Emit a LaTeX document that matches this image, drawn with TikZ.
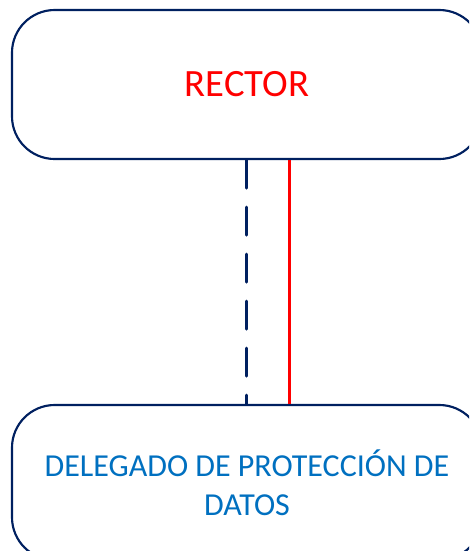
\documentclass[tikz,border=0pt]{standalone}
\usepackage{fontspec}
\setmainfont{Carlito}
\usetikzlibrary{positioning}

\definecolor{navyline}{RGB}{0,32,96}
\definecolor{textblue}{RGB}{0,112,192}

\tikzset{
	orgbox/.style={draw=navyline, line width=1.6pt, rounded corners=32pt,
		fill=white, align=center, inner sep=0pt},
	link/.style={line width=2.25pt, line cap=round}
}

\begin{document}
\begin{tikzpicture}[x=0.75pt,y=-0.75pt]
		\useasboundingbox (0,0) rectangle (469,551);
		\clip (0,0) rectangle (469,551);
		\node[orgbox, minimum width=352.5pt, minimum height=111.75pt,
			font=\fontsize{29}{35}\selectfont, text=red] (rector) at (247,84.5) {RECTOR};
		\node[orgbox, minimum width=352.5pt, minimum height=116.25pt,
			font=\fontsize{24}{29.5}\selectfont, text=textblue] (delegado) at (247,482.5)
			{DELEGADO DE PROTECCIÓN DE\\DATOS};
		\draw[link, navyline, dash pattern=on 21pt off 14.25pt]
			([xshift=-0.75pt]rector.south) -- ([xshift=-0.75pt]delegado.north);
		\draw[link, red, line cap=butt]
			([xshift=31.5pt]rector.south) -- ([xshift=31.5pt]delegado.north);
		\end{tikzpicture}
\end{document}
